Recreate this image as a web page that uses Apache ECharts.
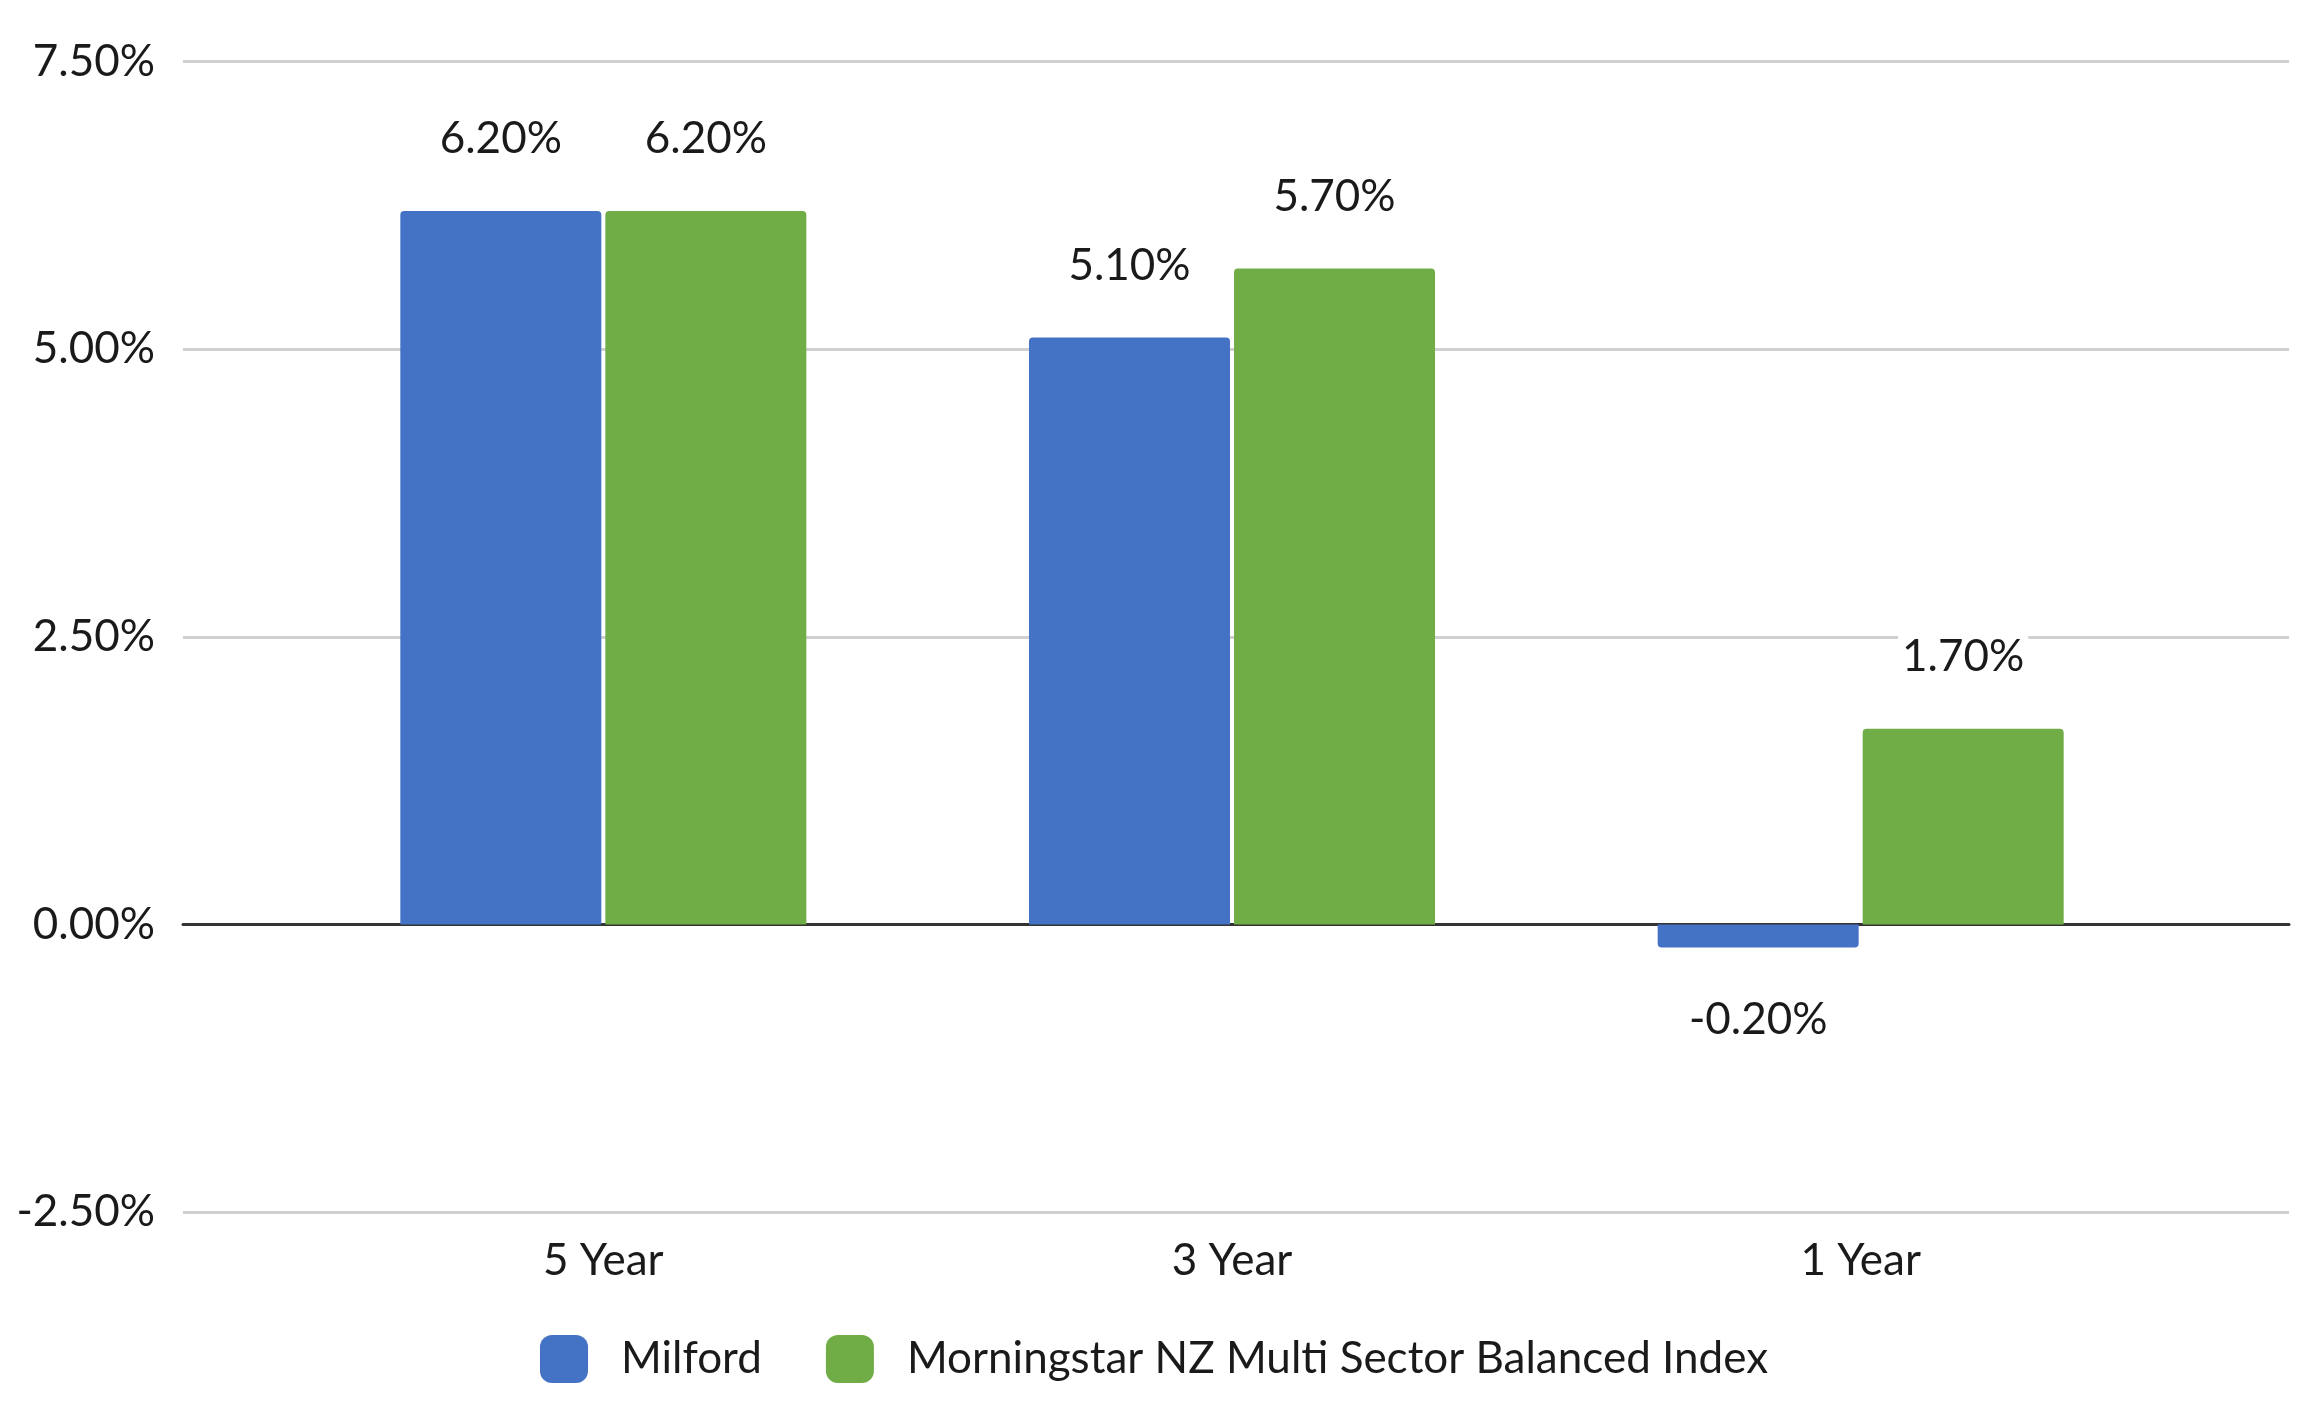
<!DOCTYPE html>
<html>
<head>
<meta charset="utf-8">
<script src="https://cdn.jsdelivr.net/npm/echarts@6/dist/echarts.min.js"></script>
<style>
  html, body { margin: 0; padding: 0; background: #fff; }
  #chart { width: 2324px; height: 1424px; }
</style>
</head>
<body>
<div id="chart"></div>
<script>
const categories = ['5 Year', '3 Year', '1 Year'];
const seriesNames = ['Milford', 'Morningstar NZ Multi Sector Balanced Index'];
const milford = [6.2, 5.1, -0.2];
const morningstar = [6.2, 5.7, 1.7];
const yTicks = { min: -2.5, max: 7.5, interval: 2.5 };
const colors = ['#4472C4', '#70AD47'];

const FONT = 'Lato';
const FS = 44;
const TXT = '#1a1a1a';

function pct(v) { return Number(v).toFixed(2) + '%'; }

function buildData(values) {
  return values.map(v => ({
    value: v,
    itemStyle: { borderRadius: v < 0 ? [0, 0, 4, 4] : [4, 4, 0, 0] },
    label: { position: v < 0 ? 'bottom' : 'top' }
  }));
}

function barSeries(name, values, color) {
  return {
    name: name,
    type: 'bar',
    xAxisIndex: 1,
    yAxisIndex: 1,
    barWidth: 201,
    barGap: '2%',
    itemStyle: { color: color },
    label: {
      show: true,
      distance: 50,
      formatter: p => pct(p.value),
      fontFamily: FONT,
      fontSize: FS,
      color: TXT,
      backgroundColor: '#ffffff',
      padding: [0, 4]
    },
    data: buildData(values)
  };
}

const chart = echarts.init(document.getElementById('chart'), null, { renderer: 'canvas' });
chart.setOption({
  animation: false,
  backgroundColor: '#ffffff',
  textStyle: { fontFamily: FONT },
  grid: [
    { left: 183, right: 35, top: 61.5, bottom: 212 },
    { left: 289, right: 149, top: 61.5, bottom: 212 }
  ],
  legend: {
    left: 535,
    top: 1330,
    itemWidth: 48,
    itemHeight: 48,
    itemGap: 64,
    icon: 'roundRect',
    textStyle: { fontFamily: FONT, fontSize: FS, color: TXT, padding: [0, 0, 0, 28] },
    data: seriesNames
  },
  xAxis: [
    {
      gridIndex: 0,
      type: 'category',
      data: categories,
      axisLine: { show: true, onZero: true, lineStyle: { color: '#333333', width: 3 } },
      axisTick: { show: false },
      axisLabel: { show: false }
    },
    {
      gridIndex: 1,
      type: 'category',
      data: categories,
      position: 'bottom',
      axisLine: { show: false, onZero: false },
      axisTick: { show: false },
      axisLabel: { show: true, margin: 27, fontFamily: FONT, fontSize: FS, color: TXT }
    }
  ],
  yAxis: [
    {
      gridIndex: 0,
      type: 'value',
      min: yTicks.min,
      max: yTicks.max,
      interval: yTicks.interval,
      axisLine: { show: false },
      axisTick: { show: false },
      axisLabel: { margin: 28, fontFamily: FONT, fontSize: FS, color: TXT, formatter: v => pct(v) },
      splitLine: { show: true, lineStyle: { color: '#d0d0d0', width: 3 } }
    },
    {
      gridIndex: 1,
      type: 'value',
      min: yTicks.min,
      max: yTicks.max,
      interval: yTicks.interval,
      show: false,
      splitLine: { show: false }
    }
  ],
  series: [
    barSeries(seriesNames[0], milford, colors[0]),
    barSeries(seriesNames[1], morningstar, colors[1])
  ]
});
</script>
</body>
</html>
